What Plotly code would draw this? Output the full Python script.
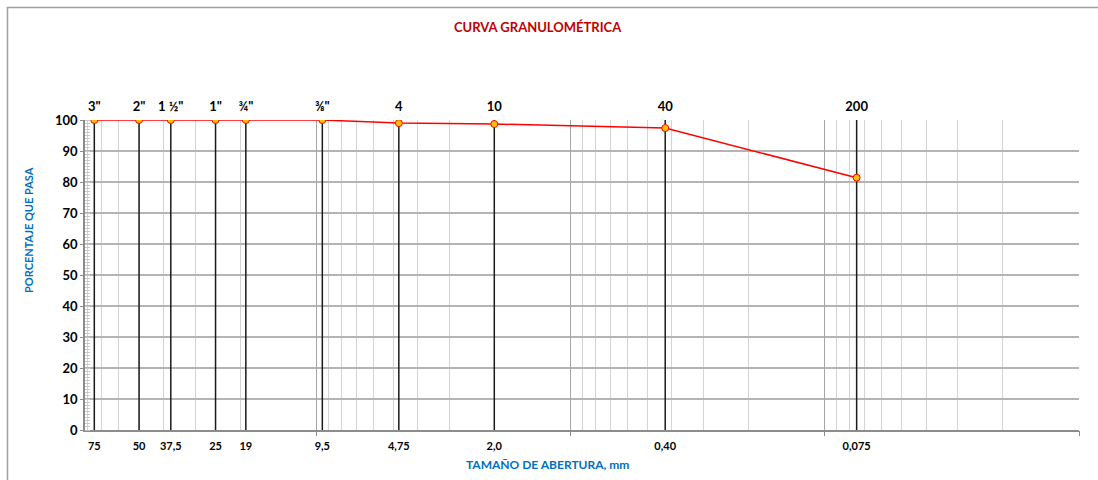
import math
import plotly.graph_objects as go

# tamices y resultados del ensayo
sieve_names = ['3"', '2"', '1 ½"', '1"', '¾"', '⅜"', '4', '10', '40', '200']
sizes_mm = [75, 50, 37.5, 25, 19, 9.5, 4.75, 2.0, 0.425, 0.075]
size_labels = ['75', '50', '37,5', '25', '19', '9,5', '4,75', '2,0', '0,40', '0,075']
percent_passing = [100, 100, 100, 100, 100, 100, 99.0, 98.7, 97.4, 81.4]

x_min, x_max = 0.01, 81.6
decades = [0.01, 0.1, 1, 10]
minor_vals = [d * k for d in decades for k in range(2, 10) if d * k < x_max]

FONT = "Lato"
BLUE = "#0070c0"
RED = "#c00000"

fig = go.Figure()

# lineas verticales de cada tamiz
vx, vy = [], []
for s in sizes_mm:
    vx += [s, s, None]
    vy += [0, 100, None]
fig.add_trace(go.Scatter(x=vx, y=vy, mode='lines',
                         line=dict(color='#1a1a1a', width=1.5),
                         hoverinfo='skip', showlegend=False))

fig.add_trace(go.Scatter(
    x=sizes_mm, y=percent_passing, mode='lines+markers',
    line=dict(color='#ff0000', width=1.5),
    marker=dict(size=7, color='#ffc000', line=dict(color='#ff0000', width=1)),
    showlegend=False,
))

rng = [math.log10(x_max), math.log10(x_min)]

fig.update_layout(
    width=1098, height=480,
    margin=dict(l=85, r=19, t=120, b=50),
    paper_bgcolor='white', plot_bgcolor='white',
    font=dict(family=FONT),
    xaxis=dict(type='log', range=rng, tickvals=minor_vals, showticklabels=False,
               showgrid=True, gridcolor='#d4d4d4', gridwidth=1, ticks='',
               showline=True, linecolor='#8c8c8c', linewidth=1.5, zeroline=False),
    xaxis2=dict(type='log', range=rng, overlaying='x', side='bottom',
                tickvals=sizes_mm, ticktext=['<b>%s</b>' % t for t in size_labels],
                showgrid=False, ticks='outside', ticklen=6, tickcolor='rgba(0,0,0,0)',
                tickfont=dict(family=FONT, size=11, color='black'),
                tickangle=0, showline=False, zeroline=False),
    xaxis3=dict(type='log', range=rng, overlaying='x', side='top',
                tickvals=sizes_mm, ticktext=['<b>%s</b>' % t for t in sieve_names],
                showgrid=False, ticks='outside', ticklen=3, tickcolor='rgba(0,0,0,0)',
                tickfont=dict(family=FONT, size=13, color='black'),
                tickangle=0, showline=False, zeroline=False),
    xaxis4=dict(type='log', range=rng, overlaying='x', side='bottom',
                tickvals=decades, showticklabels=False, showgrid=True,
                gridcolor='#a6a6a6', gridwidth=1, ticks='outside', ticklen=5,
                tickcolor='#8c8c8c', showline=False, zeroline=False),
    yaxis=dict(range=[0, 100], dtick=10, showgrid=True, gridcolor='#b4b4b4',
               gridwidth=1.5, showline=True, linecolor='#8c8c8c', linewidth=1.5,
               ticks='outside', ticklen=3, tickcolor='#8c8c8c',
               tickvals=list(range(0, 101, 10)),
               ticktext=['<b>%d</b>' % v for v in range(0, 101, 10)],
               tickfont=dict(family=FONT, size=13, color='black'),
               minor=dict(dtick=1, ticks='inside', ticklen=5, tickcolor='#c8c8c8',
                          showgrid=False),
               zeroline=False),
)

# ejes auxiliares necesitan una traza para mostrarse
for ax in ['x2', 'x3', 'x4']:
    fig.add_trace(go.Scatter(x=[sizes_mm[0]], y=[percent_passing[0]], xaxis=ax,
                             mode='markers', marker=dict(opacity=0),
                             hoverinfo='skip', showlegend=False))

fig.add_annotation(text='<b>CURVA GRANULOMÉTRICA</b>', xref='paper', yref='paper',
                   x=(538 - 85) / 994, y=(430 - 27) / 310, showarrow=False,
                   xanchor='center', yanchor='middle',
                   font=dict(family=FONT, size=13, color=RED))
fig.add_annotation(text='<b>TAMAÑO DE ABERTURA, mm</b>', xref='paper', yref='paper',
                   x=(547 - 85) / 994, y=(430 - 464) / 310, showarrow=False,
                   xanchor='center', yanchor='middle',
                   font=dict(family=FONT, size=12, color=BLUE))
fig.add_annotation(text='<b>PORCENTAJE QUE PASA</b>', xref='paper', yref='paper',
                   x=(28 - 85) / 994, y=(430 - 230) / 310, showarrow=False,
                   xanchor='center', yanchor='middle',
                   textangle=-90, font=dict(family=FONT, size=11, color=BLUE))

# marco del grafico
fig.add_shape(type='rect', xref='paper', yref='paper',
              x0=(7.5 - 85) / 994, x1=1.2, y0=-0.5, y1=(430 - 7.5) / 310,
              line=dict(color='#a0a0a0', width=1.5), layer='below')

fig.write_html("out.html", config={'displayModeBar': False},
               post_script="document.body.style.margin='0';")
